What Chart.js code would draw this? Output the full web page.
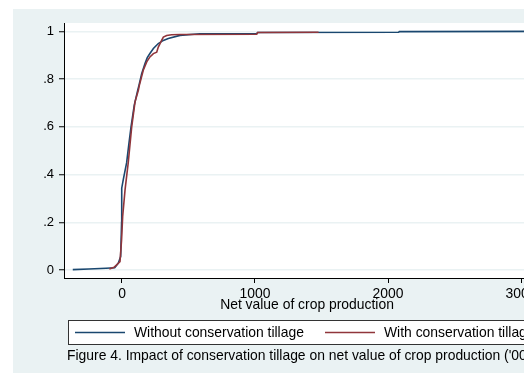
<!DOCTYPE html>
<html>
<head>
<meta charset="utf-8">
<script src="https://cdn.jsdelivr.net/npm/chart.js@4/dist/chart.umd.min.js"></script>
<style>
  html, body { margin: 0; padding: 0; overflow: hidden; background: #ffffff; }
  #wrap { width: 600px; height: 373px; }
</style>
</head>
<body>
<div id="wrap"><canvas id="c" width="600" height="373"></canvas></div>
<script>
// ---- data (CDF of net value of crop production) ----
const withoutX = [-370, -250, -120, -55, -28, -10, -3, -2, 10, 35, 50, 68, 92, 118, 128, 148, 173, 190, 210, 236, 273, 311, 348, 436, 586, 1013, 1020, 2080, 2085, 3150];
const withoutY = [0.002, 0.005, 0.008, 0.010, 0.029, 0.057, 0.200, 0.343, 0.380, 0.450, 0.520, 0.600, 0.690, 0.753, 0.775, 0.823, 0.865, 0.890, 0.907, 0.928, 0.949, 0.962, 0.970, 0.983, 0.990, 0.991, 0.995, 0.996, 0.999, 1.000];

const withX = [-95, -60, -40, -15, -3, 5, 23, 47, 73, 98, 123, 130, 160, 186, 210, 236, 261, 273, 286, 298, 311, 336, 373, 436, 1013, 1020, 1478];
const withY = [0.005, 0.012, 0.022, 0.036, 0.127, 0.224, 0.336, 0.450, 0.600, 0.705, 0.753, 0.773, 0.837, 0.872, 0.893, 0.907, 0.913, 0.934, 0.949, 0.962, 0.976, 0.983, 0.986, 0.987, 0.988, 0.995, 0.996];

const xTickVals = [0, 1000, 2000, 3000];
const xTickLabels = ['0', '1000', '2000', '3000'];
const yTickVals = [0, 0.2, 0.4, 0.6, 0.8, 1];
const yTickLabels = ['0', '.2', '.4', '.6', '.8', '1'];

const seriesNames = ['Without conservation tillage', 'With conservation tillage'];
const xTitle = 'Net value of crop production';
const caption = "Figure 4. Impact of conservation tillage on net value of crop production ('000 Tsh/acre)";

const BLUE = '#1a476f';
const RED = '#90353b';
const BG = '#eaf2f3';
const FONT = '"Liberation Sans", Arial, sans-serif';
const FS = 13.9;

const toPts = (xs, ys) => xs.map((x, i) => ({ x: x, y: ys[i] }));
const labelFor = (vals, labels) => (v) => { const i = vals.findIndex(t => Math.abs(t - v) < 1e-9); return i >= 0 ? labels[i] : ''; };

const decor = {
  id: 'decor',
  beforeDraw(chart) {
    const { ctx, chartArea: a, width, height } = chart;
    ctx.save();
    ctx.fillStyle = '#ffffff';
    ctx.fillRect(0, 0, width, height);
    ctx.fillStyle = BG;
    ctx.fillRect(13, 9, width - 13, height - 9);
    ctx.fillStyle = '#ffffff';
    ctx.fillRect(a.left, a.top, a.right - a.left, a.bottom - a.top);
    ctx.restore();
  },
  afterDraw(chart) {
    const { ctx } = chart;
    ctx.save();
    // legend box
    const bx = 68.5, by = 320.5, bw = 478, bh = 24;
    ctx.fillStyle = '#ffffff';
    ctx.fillRect(bx, by, bw, bh);
    ctx.strokeStyle = '#333333';
    ctx.lineWidth = 1;
    ctx.strokeRect(bx, by, bw, bh);
    const ly = 332.5;
    ctx.lineWidth = 1.5;
    ctx.strokeStyle = BLUE;
    ctx.beginPath(); ctx.moveTo(75, ly); ctx.lineTo(125, ly); ctx.stroke();
    ctx.strokeStyle = RED;
    ctx.beginPath(); ctx.moveTo(325, ly); ctx.lineTo(375, ly); ctx.stroke();
    ctx.fillStyle = '#000000';
    ctx.font = FS + 'px ' + FONT;
    ctx.textBaseline = 'middle';
    ctx.textAlign = 'left';
    ctx.fillText(seriesNames[0], 134, 333);
    ctx.fillText(seriesNames[1], 384, 333);
    // caption
    ctx.fillText(caption, 67, 356);
    ctx.restore();
  }
};

new Chart(document.getElementById('c'), {
  type: 'scatter',
  data: {
    datasets: [
      { label: seriesNames[0], data: toPts(withoutX, withoutY), showLine: true, borderColor: BLUE, backgroundColor: BLUE, borderWidth: 1.6, pointRadius: 0, tension: 0, order: 1 },
      { label: seriesNames[1], data: toPts(withX, withY), showLine: true, borderColor: RED, backgroundColor: RED, borderWidth: 1.6, pointRadius: 0, tension: 0, order: 0 }
    ]
  },
  options: {
    responsive: false,
    animation: false,
    devicePixelRatio: 1,
    layout: { padding: { left: 0, top: 23, right: 50, bottom: 59 } },
    plugins: { legend: { display: false }, tooltip: { enabled: false } },
    scales: {
      x: {
        type: 'linear', min: -436, max: 3218,
        afterBuildTicks: s => { s.ticks = xTickVals.map(v => ({ value: v })); },
        afterFit: s => { s.height = 36; },
        ticks: { color: '#000', font: { family: FONT, size: FS }, padding: 3, maxRotation: 0, autoSkip: false,
                 callback: labelFor(xTickVals, xTickLabels) },
        grid: { drawOnChartArea: false, drawTicks: true, tickLength: 5, tickColor: '#000', tickWidth: 1 },
        border: { display: true, color: '#000', width: 1 },
        title: { display: true, text: xTitle, color: '#000', font: { family: FONT, size: FS }, padding: { top: 0, bottom: 0 } }
      },
      y: {
        type: 'linear', min: -0.033, max: 1.035,
        afterBuildTicks: s => { s.ticks = yTickVals.map(v => ({ value: v })); },
        afterFit: s => { s.width = 64; },
        ticks: { color: '#000', font: { family: FONT, size: 13 }, padding: 5, autoSkip: false,
                 callback: labelFor(yTickVals, yTickLabels) },
        grid: { drawOnChartArea: true, color: BG, lineWidth: 1.5, drawTicks: true, tickLength: 5, tickColor: '#000', tickWidth: 1 },
        border: { display: true, color: '#000', width: 1 }
      }
    }
  },
  plugins: [decor]
});
</script>
</body>
</html>
